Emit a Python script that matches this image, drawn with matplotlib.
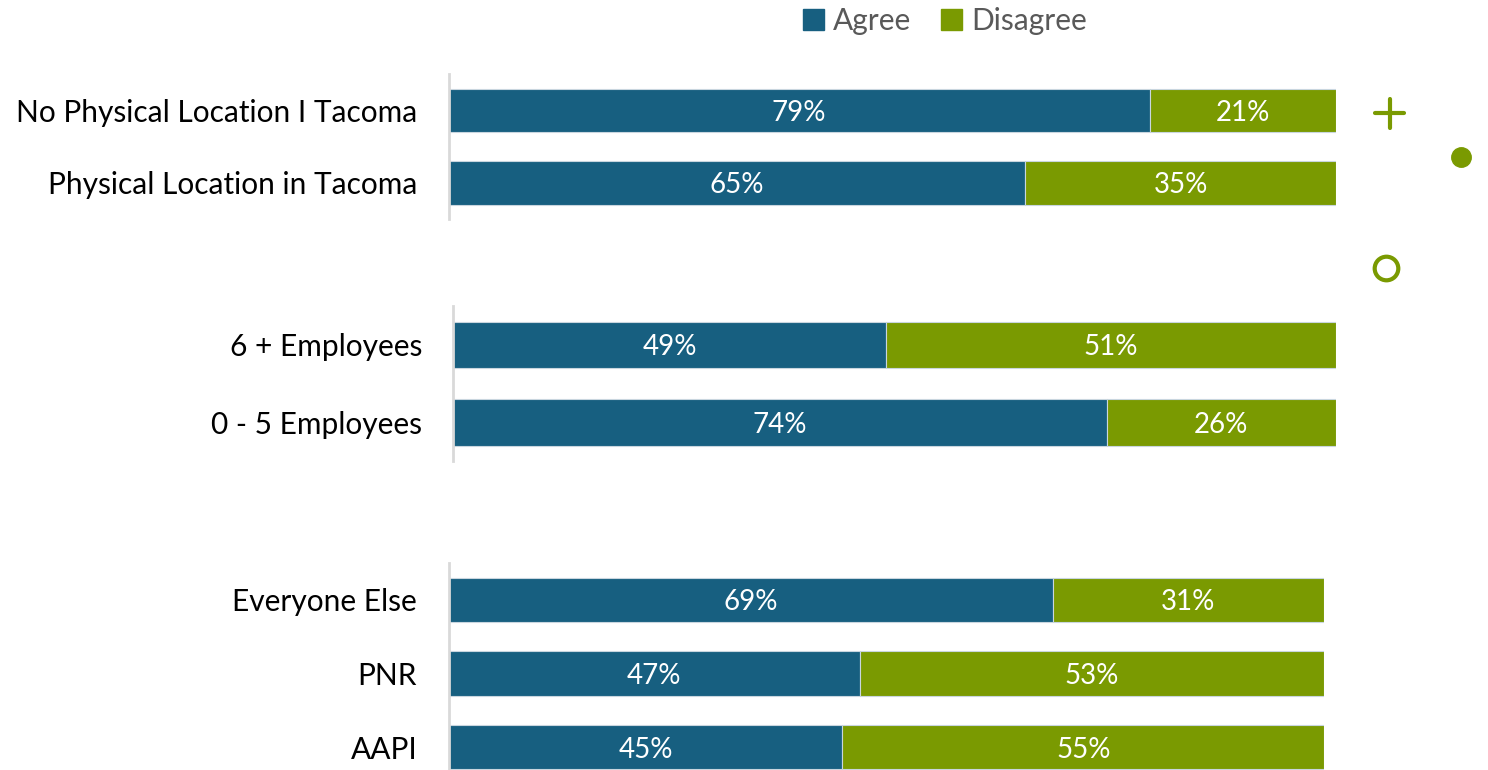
import matplotlib
matplotlib.use("Agg")
import matplotlib.pyplot as plt
from matplotlib.patches import Rectangle
from matplotlib.lines import Line2D

plt.rcParams['font.family'] = ['Lato', 'DejaVu Sans']

# Survey groups, shown top to bottom in each panel
location_groups = ["No Physical Location I Tacoma", "Physical Location in Tacoma"]
location_agree = [79, 65]
location_disagree = [21, 35]

size_groups = ["6 + Employees", "0 - 5 Employees"]
size_agree = [49, 74]
size_disagree = [51, 26]

race_groups = ["Everyone Else", "PNR", "AAPI"]
race_agree = [69, 47, 45]
race_disagree = [31, 53, 55]

series_names = ["Agree", "Disagree"]

AGREE_COLOR = "#175F80"
DISAGREE_COLOR = "#7A9A01"
W, H = 1488, 770

fig = plt.figure(figsize=(W / 100, H / 100), dpi=100)


def px_axes(left, top, right, bottom):
    return fig.add_axes([left / W, 1 - bottom / H, (right - left) / W, (bottom - top) / H])


def panel(ax, labels, agree, disagree):
    n = len(labels)
    pos = list(range(n))
    ax.barh(pos, agree, height=0.6, color=AGREE_COLOR, edgecolor="#c9d6df", linewidth=0.8)
    ax.barh(pos, disagree, left=agree, height=0.6, color=DISAGREE_COLOR,
            edgecolor="#c9d6df", linewidth=0.8)
    for p, a, d in zip(pos, agree, disagree):
        ax.text(a / 2, p, f"{a}%", color="white", ha="center", va="center_baseline", fontsize=20)
        ax.text(a + d / 2, p, f"{d}%", color="white", ha="center", va="center_baseline", fontsize=20)
    ax.set_xlim(0, 100)
    ax.set_ylim(n - 0.5, -0.5)
    ax.set_yticks(pos)
    ax.set_yticklabels(labels, fontsize=21.5, color="black")
    ax.tick_params(axis="y", length=0, pad=22.5)
    ax.set_xticks([])
    for s in ("top", "right", "bottom"):
        ax.spines[s].set_visible(False)
    ax.spines["left"].set_color("#d9d9d9")
    ax.spines["left"].set_linewidth(2)
    ax.patch.set_alpha(0)


ax1 = px_axes(448.5, 74, 1336, 219)
panel(ax1, location_groups, location_agree, location_disagree)

ax2 = px_axes(453.5, 306, 1336, 461)
panel(ax2, size_groups, size_agree, size_disagree)

ax3 = px_axes(448.5, 563, 1324, 784)
panel(ax3, race_groups, race_agree, race_disagree)

# Legend
handles = [Rectangle((0, 0), 1, 1, color=AGREE_COLOR),
           Rectangle((0, 0), 1, 1, color=DISAGREE_COLOR)]
fig.legend(handles, series_names, loc="center", bbox_to_anchor=(945 / W, 1 - 21 / H),
           ncol=2, frameon=False, fontsize=21.5, labelcolor="#595959",
           handlelength=0.7, handleheight=0.7, handletextpad=0.3, columnspacing=1.0)

# Decorative marks on the right
deco = fig.add_axes([0, 0, 1, 1])
deco.set_xlim(0, W)
deco.set_ylim(H, 0)
deco.axis("off")
deco.add_line(Line2D([1375, 1404], [113, 113], color=DISAGREE_COLOR, lw=3, solid_capstyle="round"))
deco.add_line(Line2D([1390, 1390], [99, 128], color=DISAGREE_COLOR, lw=3, solid_capstyle="round"))
deco.plot([1461], [157], "o", color=DISAGREE_COLOR, markersize=14)
deco.plot([1386], [268], "o", markerfacecolor="none", markeredgecolor=DISAGREE_COLOR,
          markersize=17, markeredgewidth=3)

fig.savefig("out.png", dpi=100)
